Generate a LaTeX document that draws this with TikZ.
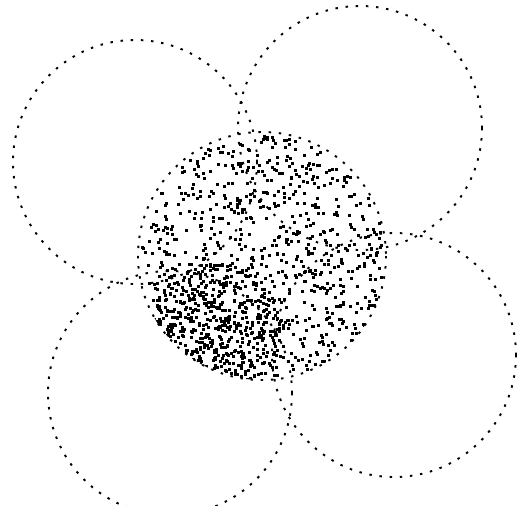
\documentclass[tikz,border=0pt]{standalone}
\usepackage{tikz}
\usetikzlibrary{calc}
\usepackage{xcolor}

\begin{document}
\begin{tikzpicture}[x=0.02cm, y=-0.02cm,
  ring/.style={draw=black, line width=1.1pt, dash pattern=on 1.4pt off 4.4pt},
  speck/.style={fill=black}
]
  \useasboundingbox (0,0) rectangle (517,505);

  % Centres of the circles
  \coordinate (cmid) at (262,256);
  \coordinate (ctl) at (135,162);
  \coordinate (ctr) at (360,128);
  \coordinate (cbl) at (170,393);
  \coordinate (cbr) at (394,355);

  % Outer circles
  \foreach \c in {ctl,ctr,cbl,cbr}
    \draw[ring] (\c) circle (122);

  % Middle circle
  \draw[ring] (cmid) circle (124);

  % Scattered points inside the middle circle
  \pgfmathsetseed{271}
  \begin{scope}
    \clip (cmid) circle (124);
    \foreach \i in {1,...,800} {
      \pgfmathsetmacro\rr{122*sqrt(rnd)}
      \pgfmathsetmacro\aa{360*rnd}
      \fill[speck] ($(cmid)+(\aa:\rr)$) rectangle ++(3,3);
    }
    % denser band, lower left
    \foreach \i in {1,...,420} {
      \pgfmathsetmacro\rr{64*sqrt(rnd)}
      \pgfmathsetmacro\aa{360*rnd}
      \fill[speck] ($(215,325)+(\aa:\rr)$) rectangle ++(3,3);
    }
  \end{scope}
\end{tikzpicture}
\end{document}
